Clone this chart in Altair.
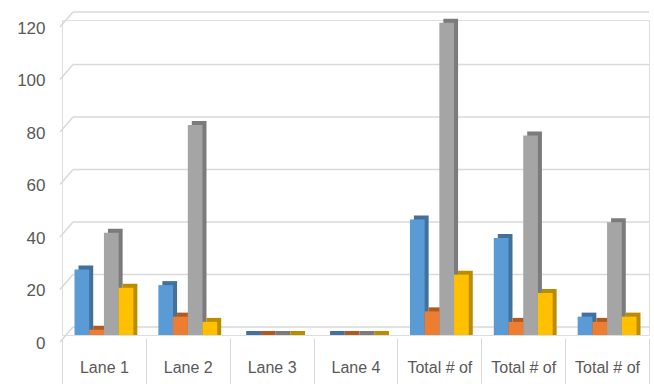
import altair as alt
import pandas as pd

categories = ["Lane 1", "Lane 2", "Lane 3", "Lane 4", "Total # of A", "Total # of B", "Total # of C"]
series = ["Series 1", "Series 2", "Series 3", "Series 4"]
s1 = [25, 19, 0, 0, 44, 37, 7]
s2 = [2, 7, 0, 0, 9, 5, 5]
s3 = [39, 80, 0, 0, 119, 76, 43]
s4 = [18, 5, 0, 0, 23, 16, 7]
y_ticks = [0, 20, 40, 60, 80, 100, 120]

front_colors = ["#5B9BD5", "#ED7D31", "#A5A5A5", "#FFC000"]
side_colors = ["#41719C", "#AE5A21", "#7B7B7B", "#BC8C00"]

rows = []
for c_i, c in enumerate(categories):
    for s_name, vals in zip(series, [s1, s2, s3, s4]):
        rows.append({"cat": c, "series": s_name, "value": vals[c_i]})
df = pd.DataFrame(rows)
grid_df = pd.DataFrame({"v": y_ticks})

W, H = 587, 315
STEP = W / len(categories)
DEPTH = 4
FONT = "Liberation Sans"

xenc = alt.X("cat:N", sort=categories,
             scale=alt.Scale(paddingInner=0, paddingOuter=0),
             axis=alt.Axis(title=None, labelAngle=0, domain=False, ticks=True,
                           tickBand="extent", tickSize=46, tickColor="#d9d9d9",
                           tickWidth=1, offset=3, labelPadding=-25,
                           labelFont=FONT, labelFontSize=16, labelColor="#595959",
                           labelExpr="slice(datum.label, 0, 10)"))
yscale = alt.Scale(domain=[0, 120], nice=False)
yenc_bar = alt.Y("value:Q", scale=yscale,
                 axis=alt.Axis(title=None, values=y_ticks, domain=False, ticks=False,
                               grid=False, labelPadding=17, labelOffset=8,
                               labelFont=FONT, labelFontSize=17, labelColor="#595959"))
xoff_front = alt.XOffset("series:N", sort=series,
                         scale=alt.Scale(paddingInner=0, paddingOuter=0.85))
xoff_side = alt.XOffset("series:N", sort=series,
                        scale=alt.Scale(paddingInner=0, paddingOuter=0.85,
                                        range=[DEPTH, STEP + DEPTH]))

grid_h = alt.Chart(grid_df).mark_rule(color="#d9d9d9", strokeWidth=1.5, yOffset=-8).encode(
    y=alt.Y("v:Q", scale=yscale), x=alt.value(11), x2=alt.value(W))
grid_s = alt.Chart(grid_df).mark_rule(color="#d9d9d9", strokeWidth=1.5, yOffset=7, y2Offset=-8).encode(
    y=alt.Y("v:Q", scale=yscale), y2="v:Q", x=alt.value(-2), x2=alt.value(11))

side = alt.Chart(df).mark_bar(yOffset=-DEPTH).encode(
    x=xenc, xOffset=xoff_side, y=yenc_bar, y2=alt.datum(0),
    color=alt.Color("series:N", sort=series,
                    scale=alt.Scale(domain=series, range=side_colors), legend=None))
front = alt.Chart(df).mark_bar().encode(
    x=xenc, xOffset=xoff_front, y=yenc_bar, y2=alt.datum(0),
    fill=alt.Fill("series:N", sort=series,
                  scale=alt.Scale(domain=series, range=front_colors), legend=None))

chart = alt.layer(grid_h, grid_s, side, front).resolve_scale(
    color="independent", xOffset="independent").properties(
    width=W, height=H,
    autosize=alt.AutoSizeParams(type="none"),
    padding={"left": 62, "top": 20, "right": 5, "bottom": 49},
).configure_view(stroke=None).configure(background="white")

chart.save("out.html", embed_options={"renderer": "svg", "actions": False})
